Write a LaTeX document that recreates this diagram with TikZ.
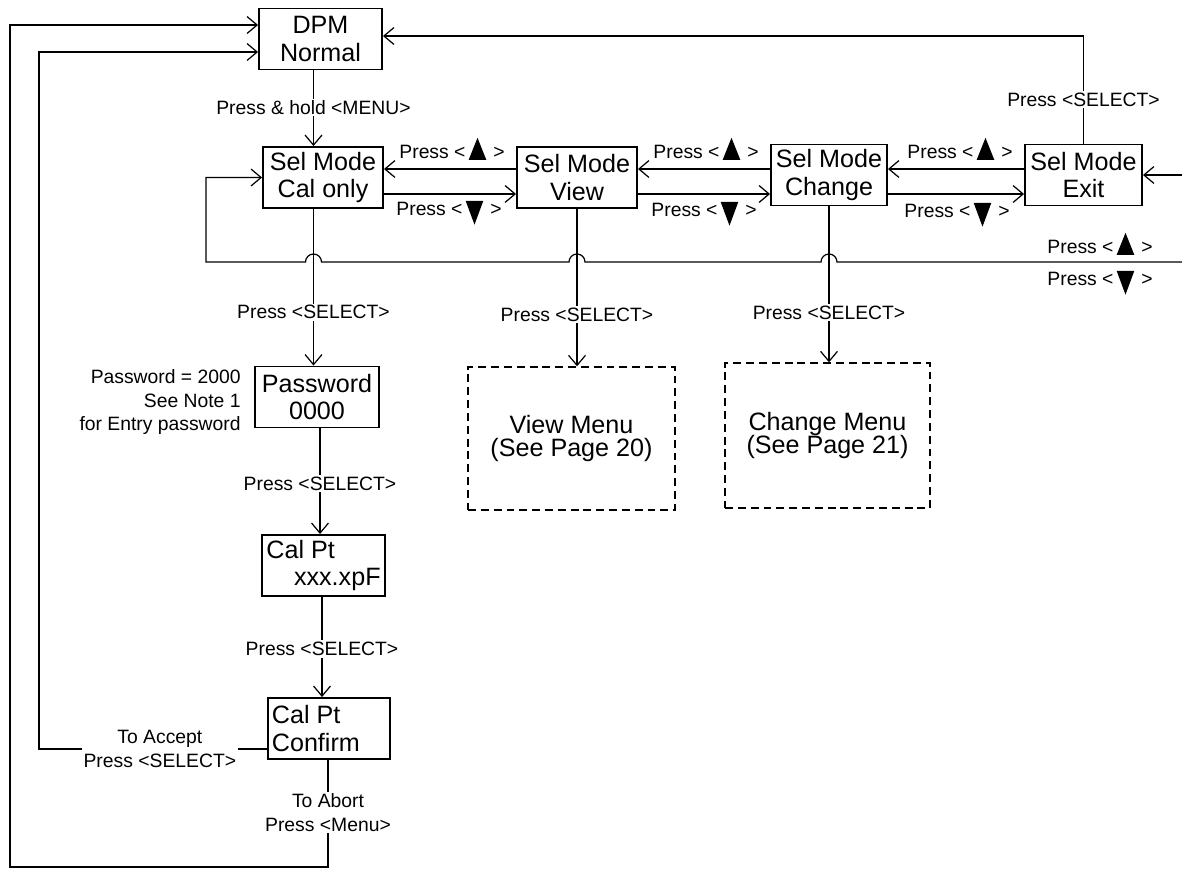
\documentclass[tikz,border=0pt]{standalone}
\usepackage{fontspec}
\setmainfont{Liberation Sans}
\usetikzlibrary{arrows.meta}

\newcommand{\tup}{\tikz[baseline=0pt]\fill (0,-1pt) -- (10pt,-1pt) -- (5pt,11.5pt) -- cycle;}
\newcommand{\tdown}{\tikz[baseline=0pt]\fill (0,8pt) -- (10pt,8pt) -- (5pt,-5.5pt) -- cycle;}

\tikzset{
  menubox/.style={draw, line width=1.1pt, minimum width=2.4cm, minimum height=1.22cm,
    inner sep=2pt, align=center, font=\fontsize{14.3}{15.5}\selectfont},
  pagebox/.style={draw, dash pattern=on 4.5pt off 2.8pt, line width=0.8pt,
    align=center, font=\fontsize{14.3}{13.5}\selectfont},
  lbl/.style={font=\fontsize{11}{13.3}\selectfont, inner sep=1pt, align=center},
  gap/.style={lbl, fill=white},
  arr/.style={-{Straight Barb[length=5.7pt,width=9.6pt]}},
}

\begin{document}
\begin{tikzpicture}[x=0.02cm, y=-0.02cm, line width=0.7pt]
    \useasboundingbox (0,0) rectangle (1182,869);

    % menu boxes
    \node[menubox, minimum width=2.46cm] (dpm) at (320.5,39) {DPM\\Normal};
    \node[menubox] (calonly) at (323,177.5) {Sel Mode\\Cal only};
    \node[menubox] (view) at (577,177.5) {Sel Mode\\View};
    \node[menubox, minimum width=2.32cm] (change) at (829,175) {Sel Mode\\Change};
    \node[menubox, minimum width=2.34cm] (exit) at (1083.5,175) {Sel Mode\\Exit};
    \node[menubox, minimum width=2.48cm] (pass) at (317,397) {Password\\0000};
    \node[menubox, minimum width=2.46cm] (calpt) at (323.5,565.5)
      {\makebox[65pt][l]{Cal Pt}\\\makebox[65pt][r]{xxx.xpF}};
    \node[menubox, minimum width=2.44cm] (confirm) at (329,728.5)
      {\makebox[65pt][l]{Cal Pt}\\\makebox[65pt][l]{Confirm}};

    % sub menus
    \node[pagebox, minimum width=4.14cm, minimum height=2.86cm] (viewmenu) at (571.5,438.5)
      {View Menu\\(See Page 20)};
    \node[pagebox, minimum width=4.1cm, minimum height=2.9cm] (changemenu) at (827.5,435.5)
      {Change Menu\\(See Page 21)};

    % helper points
    \coordinate (colA) at (313.5,0);
    \coordinate (colB) at (320,0);
    \coordinate (colC) at (322,0);
    \coordinate (colD) at (328,0);
    \coordinate (rowU) at (0,169);
    \coordinate (rowD) at (0,194);
    \coordinate (topR) at (1083.5,36);
    \coordinate (wrapR) at (1182,262);
    \coordinate (wrapE) at (1182,175);
    \coordinate (accL) at (39,749);
    \coordinate (accT) at (39,52);
    \coordinate (abB) at (328,867);
    \coordinate (abL) at (10,867);
    \coordinate (abT) at (10,25);

    % entering the menu
    \draw[arr] (dpm.south -| colA) -- node[gap, pos=0.49] (holdlbl) {Press \& hold <MENU>}
      (calonly.north -| colA);

    % scrolling between modes
    \draw[arr] (view.west |- rowU) -- (calonly.east |- rowU);
    \draw[arr] (calonly.east |- rowD) -- (view.west |- rowD);
    \draw[arr] (change.west |- rowU) -- (view.east |- rowU);
    \draw[arr] (view.east |- rowD) -- (change.west |- rowD);
    \draw[arr] (exit.west |- rowU) -- (change.east |- rowU);
    \draw[arr] (change.east |- rowD) -- (exit.west |- rowD);
    \node[lbl, anchor=base] (upA) at (452,158) {Press <\,\tup\hspace{4pt}>};
    \node[lbl, anchor=base] (dnA) at (449,215) {Press <\,\tdown\hspace{4pt}>};
    \node[lbl, anchor=base] (upB) at (706,158) {Press <\,\tup\hspace{4pt}>};
    \node[lbl, anchor=base] (dnB) at (704,216) {Press <\,\tdown\hspace{4pt}>};
    \node[lbl, anchor=base] (upC) at (960,158) {Press <\,\tup\hspace{4pt}>};
    \node[lbl, anchor=base] (dnC) at (957,217) {Press <\,\tdown\hspace{4pt}>};

    % wrap around
    \draw[arr] (wrapR) -- (837,262) arc[start angle=0, end angle=180, radius=0.16cm]
      -- (585,262) arc[start angle=0, end angle=180, radius=0.16cm]
      -- (321.5,262) arc[start angle=0, end angle=180, radius=0.16cm]
      -- (206,262) -- (206,177.5) -- (calonly.west);
    \draw[arr] (wrapE) -- (exit.east);
    \node[lbl, anchor=base] (upR) at (1100,253) {Press <\,\tup\hspace{4pt}>};
    \node[lbl, anchor=base] (dnR) at (1100,285) {Press <\,\tdown\hspace{4pt}>};

    % exit
    \draw[arr] (exit.north) -- node[gap, pos=0.41] (exitlbl) {Press <SELECT>} (topR)
      -- (dpm.east |- topR);

    % view and change
    \draw[arr] (view.south) -- node[gap, pos=0.67] (viewlbl) {Press <SELECT>}
      (viewmenu.north -| view.south);
    \draw[arr] (change.south) -- node[gap, pos=0.68] (changelbl) {Press <SELECT>}
      (changemenu.north -| change.south);

    % calibration
    \draw[arr] (calonly.south -| colA) -- node[gap, pos=0.66] (callbl) {Press <SELECT>}
      (pass.north -| colA);
    \node[lbl, anchor=east, align=right] (note) at (243,402)
      {Password = 2000\\See Note 1\\for Entry password};
    \draw[arr] (pass.south -| colB) -- node[gap, pos=0.52] (passlbl) {Press <SELECT>}
      (calpt.north -| colB);
    \draw[arr] (calpt.south -| colC) -- node[gap, pos=0.52] (ptlbl) {Press <SELECT>}
      (confirm.north -| colC);

    % accept and abort
    \draw[arr] (confirm.west |- accL) -- node[gap, pos=0.47] (acclbl) {To Accept\\Press <SELECT>}
      (accL) -- (accT) -- (dpm.west |- accT);
    \draw[arr] (confirm.south -| colD) -- node[gap, pos=0.49] (ablbl) {To Abort\\Press <Menu>}
      (abB) -- (abL) -- (abT) -- (dpm.west |- abT);

\end{tikzpicture}
\end{document}
